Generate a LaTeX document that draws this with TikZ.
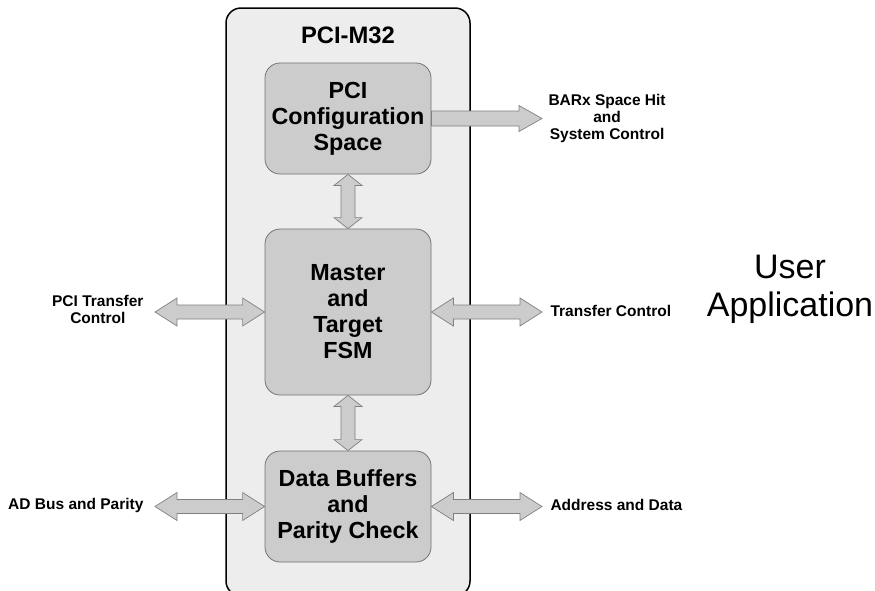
\documentclass[tikz,border=0pt]{standalone}
\usepackage{fontspec}
\setmainfont{Liberation Sans}
\usetikzlibrary{calc}

% fat arrows drawn between two points
\newcommand{\hfatarrow}[2]{%
  \filldraw[fatarrow] let \p1=(#1), \p2=(#2) in
    (\x1,\y1) -- (\x1+22pt,\y1+14pt) -- (\x1+22pt,\y1+7pt) -- (\x2-22pt,\y1+7pt) -- (\x2-22pt,\y1+14pt)
    -- (\x2,\y1) -- (\x2-22pt,\y1-14pt) -- (\x2-22pt,\y1-7pt) -- (\x1+22pt,\y1-7pt) -- (\x1+22pt,\y1-14pt) -- cycle;}
\newcommand{\vfatarrow}[2]{%
  \filldraw[fatarrow] let \p1=(#1), \p2=(#2) in
    (\x1,\y1) -- (\x1+14pt,\y1-11pt) -- (\x1+7pt,\y1-11pt) -- (\x1+7pt,\y2+11pt) -- (\x1+14pt,\y2+11pt)
    -- (\x1,\y2) -- (\x1-14pt,\y2+11pt) -- (\x1-7pt,\y2+11pt) -- (\x1-7pt,\y1-11pt) -- (\x1-14pt,\y1-11pt) -- cycle;}
\newcommand{\rfatarrow}[2]{%
  \filldraw[fatarrow] let \p1=(#1), \p2=(#2) in
    (\x1,\y1+7.5pt) -- (\x2-23pt,\y1+7.5pt) -- (\x2-23pt,\y1+13pt) -- (\x2,\y1)
    -- (\x2-23pt,\y1-13pt) -- (\x2-23pt,\y1-7.5pt) -- (\x1,\y1-7.5pt) -- cycle;}

\tikzset{
  outerbox/.style={draw=black, line width=1.5pt, fill=black!7, rounded corners=15pt},
  blockbox/.style={draw=black!55, line width=0.8pt, fill=black!20, rounded corners=15pt,
    minimum width=166pt, align=center, font=\fontsize{23.3}{26}\selectfont\bfseries},
  sidelabel/.style={align=center, font=\fontsize{15.5}{17}\selectfont\bfseries},
  fatarrow/.style={draw=black!50, fill=black!20, line width=0.7pt}
}

\begin{document}
\begin{tikzpicture}[x=1pt, y=-1pt]
\useasboundingbox (0,0) rectangle (875,590);

% Core
\node[outerbox, minimum width=244pt, minimum height=588pt] (core) at (348,302) {};
\node[font=\fontsize{23.8}{26}\selectfont\bfseries] (title) at (348,35) {PCI-M32};

% Blocks
\node[blockbox, minimum height=111pt] (cfg) at (348,118.5) {PCI\\Configuration\\Space};
\node[blockbox, minimum height=166pt] (fsm) at (348,312) {Master\\and\\Target\\FSM};
\node[blockbox, minimum height=111pt] (buf) at (348,506.5) {Data Buffers\\and\\Parity Check};

% Free ends
\coordinate (pcitc) at (155,312);
\coordinate (adbus) at (155,506.5);
\coordinate (xfer) at (542,312);
\coordinate (addr) at (542,506.5);
\coordinate (barx) at (542,118.5);

% Labels
\node[sidelabel, anchor=east] (pcitclbl) at (147,309) {PCI Transfer\\Control};
\node[sidelabel, anchor=east] (adbuslbl) at (147,505) {AD Bus and Parity};
\node[sidelabel, anchor=west] (xferlbl) at (547,311) {Transfer Control};
\node[sidelabel, anchor=west] (addrlbl) at (547,505) {Address and Data};
\node[sidelabel, anchor=west] (barxlbl) at (545,118) {BARx Space Hit\\and\\System Control};
\node[align=center, font=\fontsize{34}{38}\selectfont] (user) at (790,289) {User\\Application};

% Arrows
\rfatarrow{cfg.east}{barx}
\vfatarrow{cfg.south}{fsm.north}
\vfatarrow{fsm.south}{buf.north}
\hfatarrow{pcitc}{fsm.west}
\hfatarrow{fsm.east}{xfer}
\hfatarrow{adbus}{buf.west}
\hfatarrow{buf.east}{addr}

\end{tikzpicture}
\end{document}
